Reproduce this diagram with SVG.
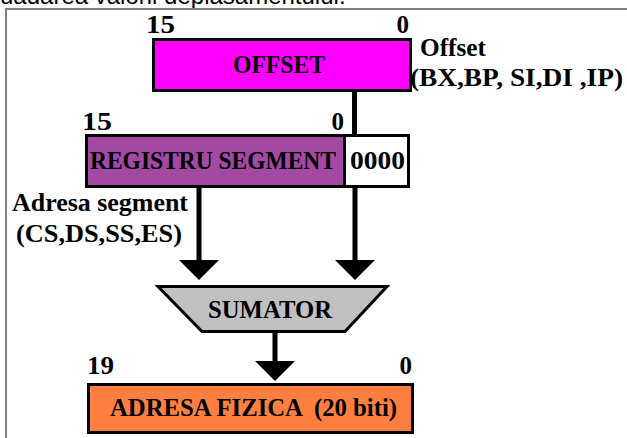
<svg xmlns="http://www.w3.org/2000/svg" width="627" height="438" viewBox="0 0 627 438">
  <style>
    .lbl { font-family: "Liberation Serif", "Times New Roman", serif; font-weight: bold; font-size: 25px; fill: #000; }
    .box { stroke: #000; stroke-width: 3; }
    .wire { stroke: #000; stroke-width: 5; fill: none; }
    .frame { stroke: #808080; stroke-width: 2; fill: none; }
    .caption { font-family: "Liberation Sans", Arial, sans-serif; font-size: 24px; fill: #000; }
  </style>
  <defs>
    <marker id="head" viewBox="0 0 20 40" refX="1" refY="20" markerWidth="20" markerHeight="40" markerUnits="userSpaceOnUse" orient="auto">
      <path d="M0,0 L20,20 L0,40 z" fill="#000"/>
    </marker>
  </defs>

  <rect width="627" height="438" fill="#fff"/>

  <!-- caption line running off the top edge -->
  <text class="caption" x="0" y="4">uadarea valorii deplasamentului.</text>

  <!-- outer frame -->
  <path class="frame" d="M6,438 V9 H627"/>

  <!-- connectors -->
  <g id="connectors">
    <line class="wire" x1="354.5" y1="92" x2="354.5" y2="134"/>
    <line class="wire" x1="199" y1="188" x2="199" y2="261" marker-end="url(#head)"/>
    <line class="wire" x1="355" y1="188" x2="355" y2="261" marker-end="url(#head)"/>
    <line class="wire" x1="275" y1="333" x2="275" y2="362" marker-end="url(#head)"/>
  </g>

  <!-- offset register -->
  <g id="offset">
    <text class="lbl" x="146" y="33" textLength="29" lengthAdjust="spacingAndGlyphs">15</text>
    <text class="lbl" x="409" y="33" text-anchor="end">0</text>
    <rect class="box" x="153.5" y="39.5" width="257" height="51" fill="#ff00ff"/>
    <text class="lbl" x="233" y="73" textLength="92" lengthAdjust="spacingAndGlyphs">OFFSET</text>
    <text class="lbl" x="420" y="56" textLength="66" lengthAdjust="spacingAndGlyphs">Offset</text>
    <text class="lbl" x="410" y="86" textLength="213" lengthAdjust="spacingAndGlyphs">(BX,BP, SI,DI ,IP)</text>
  </g>

  <!-- segment register with appended zero nibble -->
  <g id="segment">
    <text class="lbl" x="82" y="130" textLength="30" lengthAdjust="spacingAndGlyphs">15</text>
    <text class="lbl" x="344" y="130" text-anchor="end">0</text>
    <rect class="box" x="86.5" y="135.5" width="258" height="51" fill="#a349a4"/>
    <rect class="box" x="344.5" y="135.5" width="64" height="51" fill="#fff"/>
    <text class="lbl" x="90" y="169" textLength="246" lengthAdjust="spacingAndGlyphs">REGISTRU SEGMENT</text>
    <text class="lbl" x="350" y="169" textLength="55" lengthAdjust="spacingAndGlyphs">0000</text>
    <text class="lbl" x="12" y="211" textLength="176" lengthAdjust="spacingAndGlyphs">Adresa segment</text>
    <text class="lbl" x="16" y="242" textLength="166" lengthAdjust="spacingAndGlyphs">(CS,DS,SS,ES)</text>
  </g>

  <!-- adder -->
  <g id="sumator">
    <polygon class="box" points="158,286.5 387,286.5 345,331.5 202,331.5" fill="#c0c0c0"/>
    <text class="lbl" x="208" y="318" textLength="124" lengthAdjust="spacingAndGlyphs">SUMATOR</text>
  </g>

  <!-- physical address -->
  <g id="adresa">
    <text class="lbl" x="87" y="374" textLength="27" lengthAdjust="spacingAndGlyphs">19</text>
    <text class="lbl" x="412" y="374" text-anchor="end">0</text>
    <rect class="box" x="88.5" y="384.5" width="324" height="48" fill="#ff7f40"/>
    <text class="lbl" x="110" y="416" textLength="287" lengthAdjust="spacingAndGlyphs" xml:space="preserve">ADRESA FIZICA  (20 biti)</text>
  </g>
</svg>
